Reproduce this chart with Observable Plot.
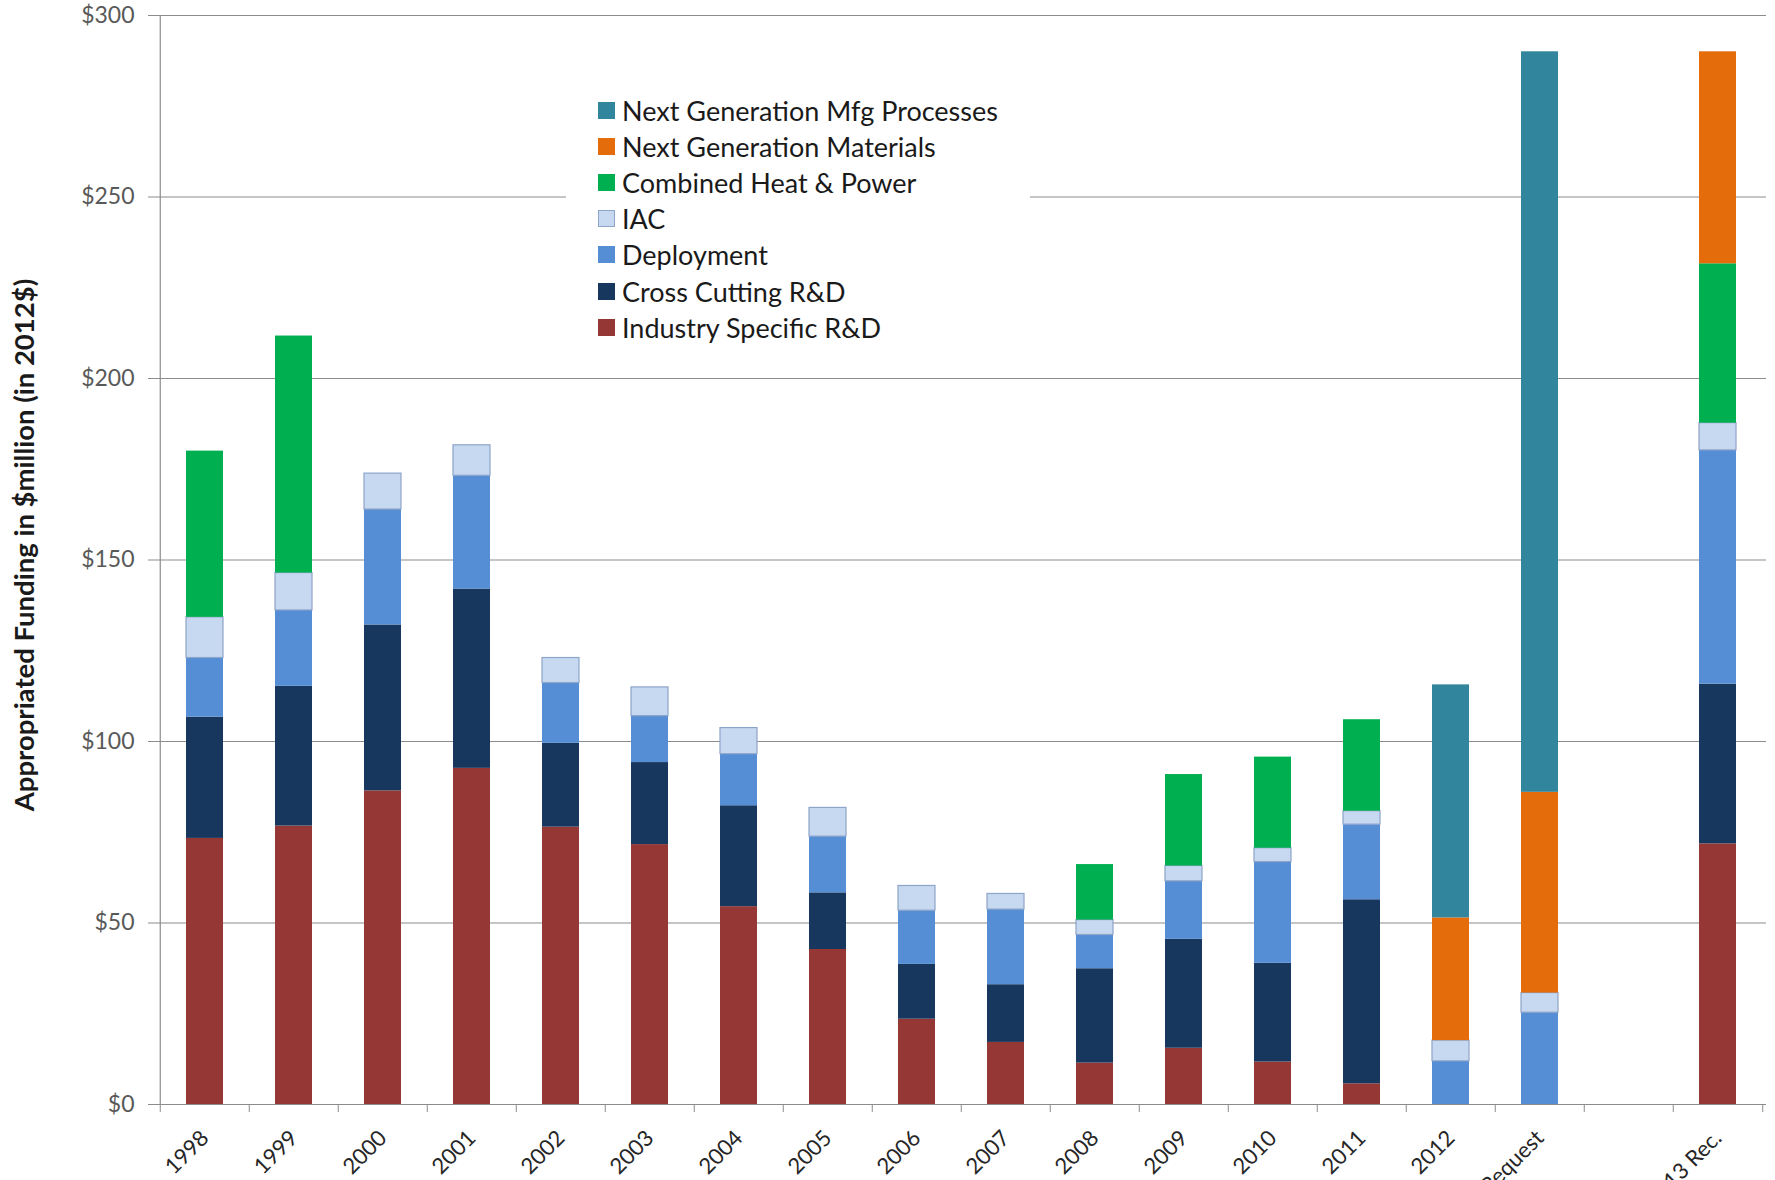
<!DOCTYPE html>
<html>
<head>
<meta charset="utf-8">
<script src="https://cdn.jsdelivr.net/npm/d3@7"></script>
<script src="https://cdn.jsdelivr.net/npm/@observablehq/plot@0.6"></script>
<style>
  body { margin: 0; background: #fff; font-family: Lato, "Open Sans", sans-serif; }
  #wrap { position: relative; width: 1775px; height: 1180px; overflow: hidden; }
  #legend { position: absolute; left: 566px; top: 88px; width: 464px; height: 257px; background: #fff; }
  .item { position: absolute; left: 32px; height: 30px; display: flex; align-items: center;
          font-size: 27px; color: #1a1a1a; white-space: nowrap; }
  .sw { width: 17px; height: 17px; margin-right: 7px; box-sizing: border-box; }
</style>
</head>
<body>
<div id="wrap"><div id="chart"></div><div id="legend"></div></div>
<script>
// ---- data ----
const categories = ["1998","1999","2000","2001","2002","2003","2004","2005","2006","2007",
                    "2008","2009","2010","2011","2012","FY2013 Request"," ","FY2013 Rec."];

const industrySpecific = [73.3, 76.7, 86.4, 92.6, 76.4, 71.6, 54.5, 42.7, 23.5, 17.1, 11.4, 15.5, 11.7, 5.7, null, null, null, 71.8];
const crossCutting     = [33.4, 38.5, 45.7, 49.4, 23.1, 22.6, 27.8, 15.6, 15.1, 15.9, 26.0, 30.0, 27.2, 50.7, null, null, null, 44.0];
const deployment       = [16.3, 20.9, 31.8, 31.2, 16.6, 12.8, 14.2, 15.5, 14.8, 20.7, 9.3, 16.0, 27.9, 20.7, 11.9, 25.3, null, 64.4];
const iac              = [11.2, 10.3, 9.9, 8.4, 6.9, 7.9, 7.2, 7.9, 6.8, 4.3, 4.1, 4.2, 3.8, 3.7, 5.7, 5.4, null, 7.5];
const chp              = [45.8, 65.3, null, null, null, null, null, null, null, null, 15.3, 25.2, 25.1, 25.2, null, null, null, 43.9];
const nextGenMaterials = [null, null, null, null, null, null, null, null, null, null, null, null, null, null, 33.8, 55.3, null, 58.4];
const nextGenMfg       = [null, null, null, null, null, null, null, null, null, null, null, null, null, null, 64.2, 204.0, null, null];

const seriesNames = ["Industry Specific R&D","Cross Cutting R&D","Deployment","IAC",
                     "Combined Heat & Power","Next Generation Materials","Next Generation Mfg Processes"];
const seriesValues = [industrySpecific, crossCutting, deployment, iac, chp, nextGenMaterials, nextGenMfg];
const seriesColors = ["#953735","#17375E","#558ED5","#C6D9F1","#00B050","#E46C0A","#31859C"];

const yTicks = [0, 50, 100, 150, 200, 250, 300];
const yTitle = "Appropriated Funding in $million (in 2012$)";

// ---- table for the library ----
const rows = [];
seriesNames.forEach((s, si) => {
  categories.forEach((c, ci) => {
    const v = seriesValues[si][ci];
    if (v != null) rows.push({cat: c, series: s, value: v});
  });
});

const W = 1775, H = 1180, ML = 155, MR = 9, MT = 15, MB = 76;
const step = (W - ML - MR) / categories.length;
const gray = "#8c8c8c";

const chart = Plot.plot({
  width: W, height: H,
  marginLeft: ML, marginRight: MR, marginTop: MT, marginBottom: MB,
  style: {fontFamily: "Lato, 'Open Sans', sans-serif", background: "white"},
  x: {domain: categories, paddingInner: 0.587, paddingOuter: 0.2935, axis: null, label: null},
  y: {domain: [0, 300], axis: null, label: null},
  color: {domain: seriesNames, range: seriesColors},
  marks: [
    Plot.gridY(yTicks, {stroke: gray, strokeOpacity: 1, strokeWidth: 1.2}),
    Plot.axisY(yTicks, {tickSize: 7, tickPadding: 14, tickFormat: d => "$" + d, fontSize: 23,
                        fill: "#595959", stroke: gray, label: null}),
    Plot.ruleX([categories[0]], {dx: -step / 2, stroke: gray, strokeWidth: 1.2}),
    Plot.ruleY([0], {stroke: gray, strokeWidth: 1.2}),
    Plot.axisX(categories, {tickSize: 8, tickFormat: () => "", dx: -step / 2, stroke: gray, label: null}),
    Plot.axisX([categories[categories.length - 1]], {tickSize: 8, tickFormat: () => "", dx: step / 2, stroke: gray, label: null}),
    Plot.axisX(categories, {tickSize: 0, tickPadding: 30, tickRotate: -45, fontSize: 22,
                            fill: "#262626", tickFormat: d => d.trim(), label: null}),
    Plot.rectY(rows, Plot.stackY({
      x: "cat", y: "value", fill: "series",
      stroke: "#8EA4C8",
      strokeWidth: d => d.series === "IAC" ? 1.2 : 0
    })),
    Plot.text([yTitle], {frameAnchor: "left", dx: -130, dy: -15, rotate: -90, fontSize: 27.5,
                         textAnchor: "middle", fontWeight: "bold", fill: "#1a1a1a", text: d => d})
  ]
});
document.getElementById("chart").appendChild(chart);

// ---- legend ----
const legend = document.getElementById("legend");
const legendOrder = seriesNames.map((s, i) => i).reverse();
legendOrder.forEach((i, k) => {
  const it = document.createElement("div");
  it.className = "item";
  it.style.top = (22 + k * 36.2 - 15) + "px";
  const sw = document.createElement("div");
  sw.className = "sw";
  sw.style.background = seriesColors[i];
  if (seriesNames[i] === "IAC") sw.style.border = "1px solid #8EA4C8";
  const tx = document.createElement("span");
  tx.textContent = seriesNames[i];
  it.appendChild(sw); it.appendChild(tx);
  legend.appendChild(it);
});
</script>
</body>
</html>
